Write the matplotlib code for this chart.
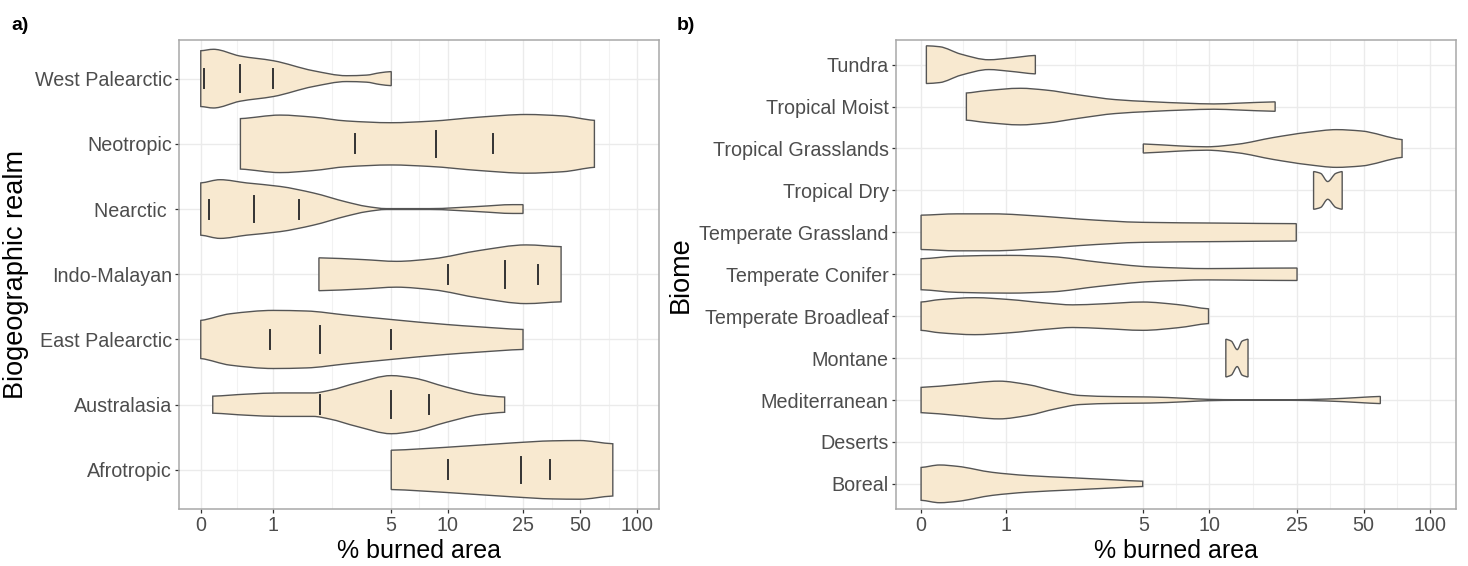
import numpy as np
import matplotlib
matplotlib.use("Agg")
import matplotlib.pyplot as plt
from matplotlib.path import Path
from matplotlib.patches import PathPatch
from matplotlib.ticker import FixedLocator, NullFormatter

plt.rcParams["font.family"] = ["Liberation Sans", "DejaVu Sans"]

# x axis breaks (% burned area, pseudo-log / asinh scale)
x_breaks = [0, 1, 5, 10, 25, 50, 100]
x_limits = (0, 100)

# ---- panel a: biogeographic realms, bottom -> top ----
realms = ["Afrotropic", "Australasia", "East Palearctic", "Indo-Malayan",
          "Nearctic ", "Neotropic", "West Palearctic"]
# violin outline knots: % burned area, relative half-width (1 = widest)
realm_vals = [
    [5, 9.84, 22.1, 35.9, 49.6, 74.4],
    [0.146, 0.59, 1.12, 1.83, 2.29, 3.24, 5.0, 6.55, 9.84, 14.7, 20.0],
    [0, 0.363, 1.0, 1.66, 2.85, 5.0, 9.84, 14.7, 25],
    [1.98, 3.52, 5.33, 8.37, 14.7, 26.0, 39.7],
    [0, 0.236, 0.587, 1.12, 1.83, 2.85, 3.67, 4.71, 8.03, 14.7, 22.1, 25.0],
    [0.5, 1.12, 1.83, 2.85, 5.0, 8.03, 14.7, 26.0, 40.6, 59.5],
    [0, 0.154, 0.495, 1.0, 1.83, 2.85, 3.67, 4.35, 5.0],
]
realm_widths = [
    [0.67, 0.77, 0.92, 0.99, 1.0, 0.89],
    [0.29, 0.36, 0.40, 0.40, 0.49, 0.74, 0.99, 0.91, 0.60, 0.34, 0.26],
    [0.65, 0.875, 0.99, 0.97, 0.83, 0.68, 0.51, 0.43, 0.34],
    [0.56, 0.50, 0.44, 0.53, 0.81, 1.0, 0.94],
    [0.89, 1.0, 0.89, 0.77, 0.55, 0.24, 0.09, 0.015, 0.015, 0.09, 0.15, 0.15],
    [0.86, 0.98, 0.91, 0.78, 0.72, 0.77, 0.91, 1.0, 0.95, 0.80],
    [0.95, 1.0, 0.77, 0.61, 0.27, 0.10, 0.12, 0.20, 0.24],
]
# 25 / 50 / 75 % quantiles
realm_quant = [
    [10, 24.4, 34.5],
    [2.0, 5.0, 7.96],
    [0.94, 2.0, 5.0],
    [10, 20, 30],
    [0.10, 0.69, 1.50],
    [3.18, 8.64, 17.3],
    [0.04, 0.495, 1.0],
]

# ---- panel b: biomes, bottom -> top ----
biomes = ["Boreal", "Deserts", "Mediterranean", "Montane", "Temperate Broadleaf",
          "Temperate Conifer", "Temperate Grassland", "Tropical Dry",
          "Tropical Grasslands", "Tropical Moist", "Tundra"]
biome_vals = [
    [0, 0.195, 0.385, 0.812, 1.35, 2.32, 3.70, 4.97],
    [],
    [0, 0.385, 0.907, 1.35, 1.90, 2.52, 3.70, 5.39, 7.80, 9.93, 13.5, 23.4, 33.8, 48.7, 59.5],
    [11.9, 12.6, 13.4, 14.1, 15.0],
    [0, 0.195, 0.589, 1.06, 1.68, 2.32, 3.18, 4.97, 7.24, 9.93],
    [0, 0.385, 1.06, 1.83, 3.06, 5.39, 9.93, 16.2, 25],
    [0, 0.385, 0.812, 1.68, 2.52, 4.97, 11.3, 24.8],
    [29.7, 32.0, 34.4, 37.4, 40.0],
    [5.0, 7.24, 9.73, 13.5, 19.5, 28.1, 37.7, 48.7, 74.6],
    [0.489, 0.72, 1.23, 1.68, 2.52, 3.70, 5.39, 7.80, 10.5, 13.5, 19.9],
    [0.055, 0.195, 0.425, 0.765, 1.06, 1.49],
]
biome_widths = [
    [0.87, 1.0, 0.93, 0.61, 0.44, 0.32, 0.21, 0.14],
    [],
    [0.67, 0.82, 1.0, 0.82, 0.47, 0.24, 0.18, 0.16, 0.09, 0.035, 0.015, 0.015, 0.05, 0.14, 0.19],
    [1.0, 0.9, 0.45, 0.9, 1.0],
    [0.75, 0.88, 0.98, 0.88, 0.70, 0.60, 0.65, 0.75, 0.61, 0.39],
    [0.82, 0.96, 1.0, 0.93, 0.65, 0.39, 0.30, 0.32, 0.33],
    [0.91, 0.98, 0.98, 0.84, 0.70, 0.53, 0.49, 0.46],
    [1.0, 0.9, 0.47, 0.9, 1.0],
    [0.24, 0.14, 0.09, 0.23, 0.58, 0.86, 1.0, 0.93, 0.47],
    [0.72, 0.84, 0.97, 0.88, 0.61, 0.37, 0.26, 0.18, 0.14, 0.18, 0.25],
    [1.0, 0.95, 0.56, 0.26, 0.35, 0.49],
]

FILL = "#F8E9D0"
EDGE = "#555555"
HALF = 0.45  # ggplot violin width 0.9


def style_axis(ax, labels, title):
    n = len(labels)
    ax.set_xscale("asinh", linear_width=1)
    lo, hi = np.arcsinh(x_limits[0]), np.arcsinh(x_limits[1])
    pad = 0.05 * (hi - lo)
    ax.set_xlim(np.sinh(lo - pad), np.sinh(hi + pad))
    ax.set_ylim(0.4, n + 0.6)
    ax.xaxis.set_major_locator(FixedLocator(x_breaks))
    ax.set_xticklabels([str(b) for b in x_breaks])
    tb = np.arcsinh(x_breaks)
    minors = np.sinh((tb[:-1] + tb[1:]) / 2)
    ax.xaxis.set_minor_locator(FixedLocator(minors))
    ax.xaxis.set_minor_formatter(NullFormatter())
    ax.set_yticks(np.arange(1, n + 1))
    ax.set_yticklabels(labels)
    ax.grid(which="major", color="#EBEBEB", lw=1.0, zorder=0)
    ax.grid(which="minor", axis="x", color="#F2F2F2", lw=0.8, zorder=0)
    ax.set_axisbelow(True)
    ax.tick_params(axis="both", which="major", labelsize=14.2, labelcolor="#4D4D4D",
                   color="#333333", length=3, width=0.9, pad=2)
    ax.tick_params(which="minor", length=0)
    for sp in ax.spines.values():
        sp.set_color("#A8A8A8")
        sp.set_linewidth(1.1)
    ax.set_xlabel("% burned area", fontsize=18, labelpad=3)
    ax.set_ylabel(title, fontsize=19.5, labelpad=4)


def side_curve(u, w):
    """Bezier control points for a smooth, shape-preserving outline through the knots
    (u in asinh space, w half-widths)."""
    n = len(u)
    h = np.diff(u)
    d = np.diff(w) / h
    m = np.zeros(n)
    for k in range(1, n - 1):
        if d[k - 1] * d[k] > 0:
            w1 = 2 * h[k] + h[k - 1]
            w2 = h[k] + 2 * h[k - 1]
            m[k] = (w1 + w2) / (w1 / d[k - 1] + w2 / d[k])
    m[0], m[-1] = d[0] * 0.5, d[-1] * 0.5
    pts = []
    for k in range(n - 1):
        c1 = (u[k] + h[k] / 3, max(w[k] + m[k] * h[k] / 3, 0.0))
        c2 = (u[k + 1] - h[k] / 3, max(w[k + 1] - m[k + 1] * h[k] / 3, 0.0))
        pts += [c1, c2, (u[k + 1], w[k + 1])]
    return pts


def draw_violins(ax, vals, widths):
    for i, (xv, wv) in enumerate(zip(vals, widths)):
        if not xv:
            continue
        pos = i + 1
        u = np.arcsinh(np.asarray(xv, float))
        w = np.asarray(wv, float) * HALF
        up = side_curve(u, w)
        verts = [(u[0], pos + w[0])] + [(a, pos + b) for a, b in up]
        codes = [Path.MOVETO] + [Path.CURVE4] * len(up)
        lo = side_curve(u[::-1], w[::-1])
        verts += [(u[-1], pos - w[-1])] + [(a, pos - b) for a, b in lo]
        codes += [Path.LINETO] + [Path.CURVE4] * len(lo)
        verts += [(u[0], pos + w[0])]
        codes += [Path.CLOSEPOLY]
        verts = np.array(verts)
        verts[:, 0] = np.sinh(verts[:, 0])  # back to data units, the axis scale maps them
        ax.add_patch(PathPatch(Path(verts, codes), facecolor=FILL, edgecolor=EDGE,
                               lw=1.0, zorder=2))


fig = plt.figure(figsize=(14.68, 5.66), dpi=100)
ax1 = fig.add_axes([0.1219, 0.1007, 0.327, 0.8295])
ax2 = fig.add_axes([0.6101, 0.1007, 0.3815, 0.8295])

style_axis(ax1, realms, "Biogeographic realm")
style_axis(ax2, biomes, "Biome")

draw_violins(ax1, realm_vals, realm_widths)
for i, q in enumerate(realm_quant):
    pos = i + 1
    for j, v in enumerate(q):
        h = 0.204 if j == 1 else 0.146
        ax1.plot([v, v], [pos - h, pos + h], color="#333333", lw=1.4, zorder=3)

draw_violins(ax2, biome_vals, biome_widths)

fig.text(0.008, 0.955, "a)", fontsize=14, fontweight="bold", va="center")
fig.text(0.461, 0.955, "b)", fontsize=14, fontweight="bold", va="center")

fig.savefig("out.png", dpi=100)
plt.close(fig)
